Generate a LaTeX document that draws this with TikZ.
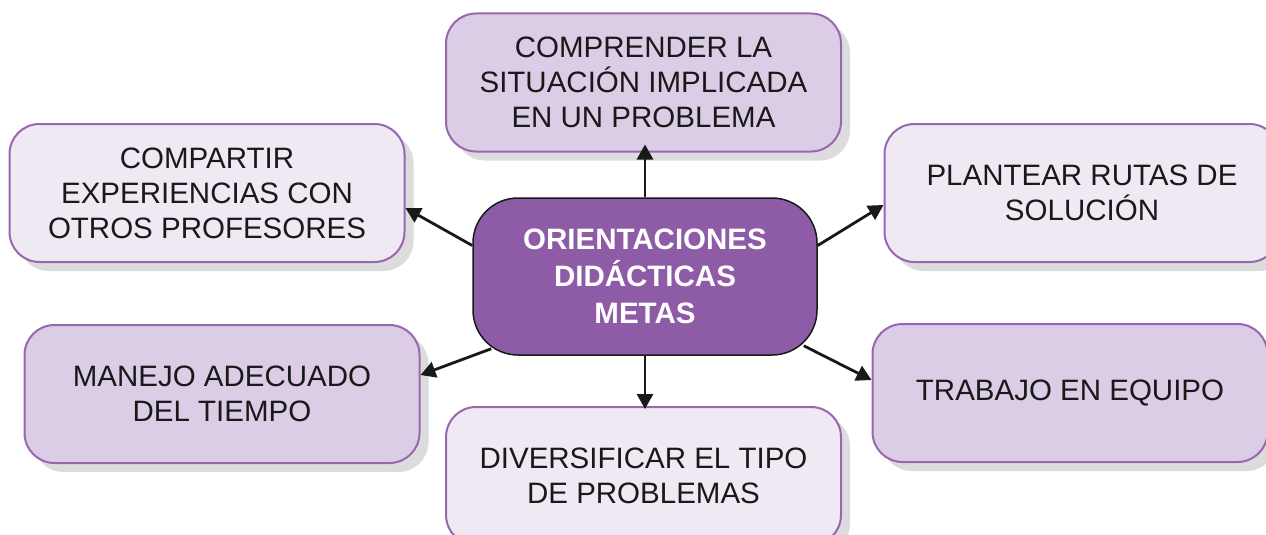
\documentclass[tikz,border=0pt]{standalone}
\usepackage{fontspec}
\setmainfont{Liberation Sans}
\usepackage{xcolor}
\usepackage{tikz}
\usetikzlibrary{positioning,calc,shadows,arrows.meta}

\definecolor{boxline}{HTML}{9966B0}
\definecolor{boxlight}{HTML}{EFE9F4}
\definecolor{boxdark}{HTML}{DBCDE6}
\definecolor{centerfill}{HTML}{8E5BA6}
\definecolor{shadowgray}{HTML}{DCDCDE}

\begin{document}
\begin{tikzpicture}[
					x=1pt, y=1pt,
					goal/.style={
						rectangle, rounded corners=30pt, draw=boxline, line width=2pt,
						minimum width=395pt, minimum height=138pt, inner sep=0pt,
						align=center, text=black!90,
						font=\fontsize{29.5}{35}\selectfont,
						drop shadow={shadow xshift=9pt, shadow yshift=-9pt, fill=shadowgray, opacity=1}
					},
					goallight/.style={goal, fill=boxlight},
					goaldark/.style={goal, fill=boxdark},
					hub/.style={
						rectangle, rounded corners=45pt, draw=black!90, line width=1.5pt,
						fill=centerfill, text=white,
						minimum width=344pt, minimum height=157pt, inner sep=0pt,
						align=center, font=\fontsize{29.5}{37}\selectfont\bfseries
					},
					link/.style={
						draw=black!90, line width=2.8pt, -{Triangle[length=15pt,width=16pt]}
					}
					]
					
					\useasboundingbox (0,0) rectangle (1266,-535);
					\clip (0,0) rectangle (1266,-535);
					
					% --- CENTRO ---
					\node[hub] (ctr) at (645,-276.5) {ORIENTACIONES\\DID\'ACTICAS\\METAS};
					
					% --- METAS ---
					\node[goaldark] (top) at (643.5,-82.5) {COMPRENDER LA\\SITUACI\'ON IMPLICADA\\EN UN PROBLEMA};
					\node[goallight] (lt) at (207,-193) {COMPARTIR\\EXPERIENCIAS CON\\OTROS PROFESORES};
					\node[goallight] (rt) at (1082,-193) {PLANTEAR RUTAS DE\\SOLUCI\'ON};
					\node[goaldark] (lb) at (222,-394) {MANEJO ADECUADO\\DEL TIEMPO};
					\node[goaldark] (rb) at (1070,-393) {TRABAJO EN EQUIPO};
					\node[goallight] (bt) at (643.5,-476) {DIVERSIFICAR EL TIPO\\DE PROBLEMAS};
					
					% --- FLECHAS ---
					\draw[link] (ctr.north) -- ($(ctr.north |- top.south)+(0,8)$);
					\draw[link] (ctr.south) -- ($(ctr.south |- bt.north)+(0,-3)$);
					\draw[link] ([yshift=31pt]ctr.west) -- ([yshift=-15pt]lt.east);
					\draw[link] ([xshift=19pt,yshift=7pt]ctr.south west) -- ([yshift=19pt]lb.east);
					\draw[link] ([yshift=31pt]ctr.east) -- ([yshift=-12pt]rt.west);
					\draw[link] ([xshift=-14pt,yshift=10pt]ctr.south east) -- ([yshift=13pt]rb.west);
					
				\end{tikzpicture}
\end{document}
